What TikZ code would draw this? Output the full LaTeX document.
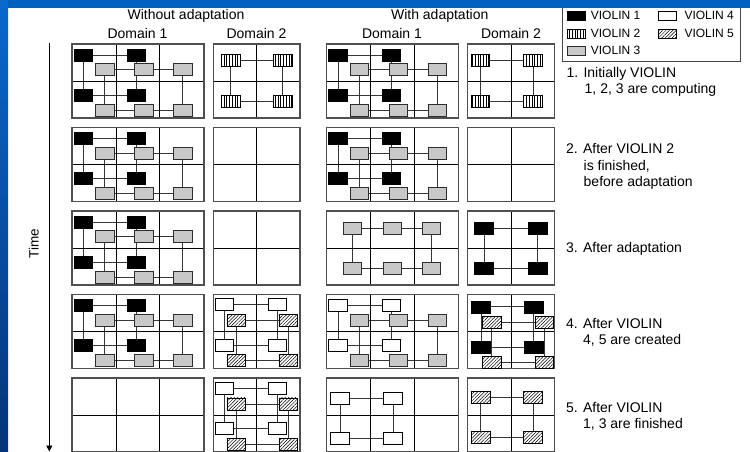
\documentclass[tikz,border=0pt]{standalone}
\usepackage{fontspec}
\setmainfont{Liberation Sans}
\usetikzlibrary{arrows.meta,patterns.meta,backgrounds}
\definecolor{gridgray}{RGB}{80,80,80}
\definecolor{conngray}{RGB}{55,55,55}
\definecolor{vgray}{RGB}{200,200,200}
\definecolor{vborder}{RGB}{45,45,45}
\definecolor{legborder}{RGB}{70,70,70}
\definecolor{slideblue}{RGB}{0,96,192}
\definecolor{stripTop}{RGB}{10,104,206}
\definecolor{stripBot}{RGB}{6,52,120}
\tikzset{
  gridout/.style={draw=gridgray, line width=1.1pt},
  gridin/.style={draw=black, line width=0.7pt},
  conn/.style={draw=conngray, line width=0.8pt},
  vbox/.style={draw=black, line width=0.6pt, minimum width=18.5pt, minimum height=12pt, inner sep=0pt, outer sep=0pt},
  vone/.style={vbox, fill=black},
  vtwo/.style={vbox, preaction={fill=white}, pattern={Lines[angle=90,distance=2.7pt,line width=0.7pt]}},
  vthree/.style={vbox, fill=vgray, draw=vborder},
  vfour/.style={vbox, fill=white},
  vfive/.style={vbox, preaction={fill=white}, pattern={Lines[angle=45,distance=2.4pt,line width=0.5pt]}},
  swatch/.style={minimum width=17.7pt, minimum height=8.7pt},
  lbl/.style={font=\fontsize{14}{16.3}\selectfont, inner sep=0pt, anchor=base west, align=left},
  hdr/.style={font=\fontsize{14}{16}\selectfont, inner sep=0pt, anchor=base},
  leg/.style={font=\fontsize{12}{14}\selectfont, inner sep=0pt, anchor=base west},
}
\newcommand\gthree{\draw[gridin] (44,0)--(44,74) (87.7,0)--(87.7,74) (0,37)--(132,37); \draw[gridout] (0,0) rectangle (132,74);}
\newcommand\gtwo{\draw[gridin] (43.5,0)--(43.5,74) (0,37)--(86.7,37); \draw[gridout] (0,0) rectangle (86.7,74);}
% four boxes in a 2x2 ring: prefix, style, x1, x2, y1, y2
\newcommand\fourbox[6]{%
  \node[#2] (#1a) at (#3,#5) {};
  \node[#2] (#1b) at (#4,#5) {};
  \node[#2] (#1c) at (#3,#6) {};
  \node[#2] (#1d) at (#4,#6) {};
  \begin{scope}[on background layer]
    \draw[conn] (#1a)--(#1b) (#1c)--(#1d) (#1a)--(#1c) (#1b)--(#1d);
  \end{scope}}
% six boxes 2x3: prefix, style, x1, x2, x3, y1, y2
\newcommand\sixbox[7]{%
  \node[#2] (#1a) at (#3,#6) {};
  \node[#2] (#1b) at (#4,#6) {};
  \node[#2] (#1c) at (#5,#6) {};
  \node[#2] (#1d) at (#3,#7) {};
  \node[#2] (#1e) at (#4,#7) {};
  \node[#2] (#1f) at (#5,#7) {};
  \begin{scope}[on background layer]
    \draw[conn] (#1a)--(#1b) (#1b)--(#1c) (#1d)--(#1e) (#1e)--(#1f) (#1a)--(#1d) (#1c)--(#1f);
  \end{scope}}
% full domain-1 layout: prefix, style of 2x2, style of 2x3
\newcommand\fullD[3]{\fourbox{#1A}{#2}{11.3}{64.5}{11}{51}\sixbox{#1B}{#3}{32.7}{71.7}{110.7}{25.7}{66}}
\newcommand\wfD[1]{\fourbox{#1A}{vfour}{11.2}{63.8}{9.9}{50.6}\fourbox{#1B}{vfive}{22.8}{74.8}{25.9}{66.4}}

\begin{document}
\begin{tikzpicture}[x=1pt,y=-1pt]
\useasboundingbox (0,0) rectangle (750,452);
\begin{scope}[on background layer]
\fill[white] (0,0) rectangle (750,452);
\end{scope}

% headers
\node[hdr] (hwo) at (186,20) {Without adaptation};
\node[hdr] (hw) at (439.7,20) {With adaptation};
\node[hdr] (hd1a) at (137.5,38.5) {Domain 1};
\node[hdr] (hd2a) at (256.5,38.5) {Domain 2};
\node[hdr] (hd1b) at (392,38.5) {Domain 1};
\node[hdr] (hd2b) at (511,38.5) {Domain 2};

% time axis
\coordinate (tTop) at (49.3,43);
\coordinate (tBot) at (49.3,451.5);
\draw[line width=0.8pt,-{Triangle[length=6pt,width=6pt]}] (tTop)--(tBot);
\node[font=\fontsize{13.5}{15}\selectfont, rotate=90, inner sep=0pt] (time) at (33.7,243.8) {Time};

% ---------- row 1 ----------
\begin{scope}[shift={(72,44)}]\gthree\fullD{ra}{vone}{vthree}\end{scope}
\begin{scope}[shift={(213.3,44)}]\gtwo\fourbox{rb}{vtwo}{17.5}{69.5}{16.8}{57.5}\end{scope}
\begin{scope}[shift={(326.7,44)}]\gthree\fullD{rc}{vone}{vthree}\end{scope}
\begin{scope}[shift={(467.7,44)}]\gtwo\fourbox{rd}{vtwo}{12.5}{65.3}{16.8}{57.5}\end{scope}
% ---------- row 2 ----------
\begin{scope}[shift={(72,127.5)}]\gthree\fullD{sa}{vone}{vthree}\end{scope}
\begin{scope}[shift={(213.3,127.5)}]\gtwo\end{scope}
\begin{scope}[shift={(326.7,127.5)}]\gthree\fullD{sc}{vone}{vthree}\end{scope}
\begin{scope}[shift={(467.7,127.5)}]\gtwo\end{scope}
% ---------- row 3 ----------
\begin{scope}[shift={(72,211)}]\gthree\fullD{ta}{vone}{vthree}\end{scope}
\begin{scope}[shift={(213.3,211)}]\gtwo\end{scope}
\begin{scope}[shift={(326.7,211)}]\gthree\sixbox{tc}{vthree}{25.8}{65.8}{104.5}{17.5}{57.7}\end{scope}
\begin{scope}[shift={(467.7,211)}]\gtwo\fourbox{td}{vone}{16.2}{69.9}{17.5}{57.7}\end{scope}
% ---------- row 4 ----------
\begin{scope}[shift={(72,294.3)}]\gthree\fullD{ua}{vone}{vthree}\end{scope}
\begin{scope}[shift={(213.3,294.3)}]\gtwo\wfD{ub}\end{scope}
\begin{scope}[shift={(326.7,294.3)}]\gthree\fullD{uc}{vfour}{vthree}\end{scope}
\begin{scope}[shift={(467.7,294.3)}]\gtwo\fourbox{udA}{vone}{13.2}{66}{12.5}{52.8}\fourbox{udB}{vfive}{24}{76.8}{27.9}{68.2}\end{scope}
% ---------- row 5 ----------
\begin{scope}[shift={(72,378)}]\gthree\end{scope}
\begin{scope}[shift={(213.3,378)}]\gtwo\wfD{vb}\end{scope}
\begin{scope}[shift={(326.7,378)}]\gthree\fourbox{vc}{vfour}{13.2}{66.3}{20.1}{60.1}\end{scope}
\begin{scope}[shift={(467.7,378)}]\gtwo\fourbox{vd}{vfive}{13}{65.2}{19.1}{59.1}\end{scope}

% step labels (anchor = baseline of the last line)
\node[lbl] (l1) at (566.5,93.6) {1. Initially VIOLIN\\\hspace*{18pt}1, 2, 3 are computing};
\node[lbl] (l2) at (566,186.4) {2. After VIOLIN 2\\\hspace*{17.5pt}is finished,\\\hspace*{17.5pt}before adaptation};
\node[lbl] (l3) at (566,252.7) {3. After adaptation};
\node[lbl] (l4) at (566,344.7) {4. After VIOLIN\\\hspace*{17pt}4, 5 are created};
\node[lbl] (l5) at (566,428.4) {5. After VIOLIN\\\hspace*{17pt}1, 3 are finished};

% legend
\draw[draw=legborder, line width=0.9pt] (562.3,3) rectangle (740,61.7);
\node[vone,swatch] (s1) at (576.5,15.5) {};
\node[vtwo,swatch] (s2) at (576.5,33.5) {};
\node[vthree,swatch] (s3) at (576.5,50.5) {};
\node[vfour,swatch] (s4) at (667.2,15.5) {};
\node[vfive,swatch] (s5) at (667.2,33.5) {};
\node[leg] (t1) at (590.7,20) {VIOLIN 1};
\node[leg] (t2) at (590.7,37.5) {VIOLIN 2};
\node[leg] (t3) at (590.7,54.5) {VIOLIN 3};
\node[leg] (t4) at (684.3,20) {VIOLIN 4};
\node[leg] (t5) at (684.3,37.5) {VIOLIN 5};

% slide background bands
\fill[slideblue] (0,0) rectangle (750,8.3);
\shade[top color=stripTop, bottom color=stripBot] (0,0) rectangle (8,452);
\end{tikzpicture}
\end{document}
